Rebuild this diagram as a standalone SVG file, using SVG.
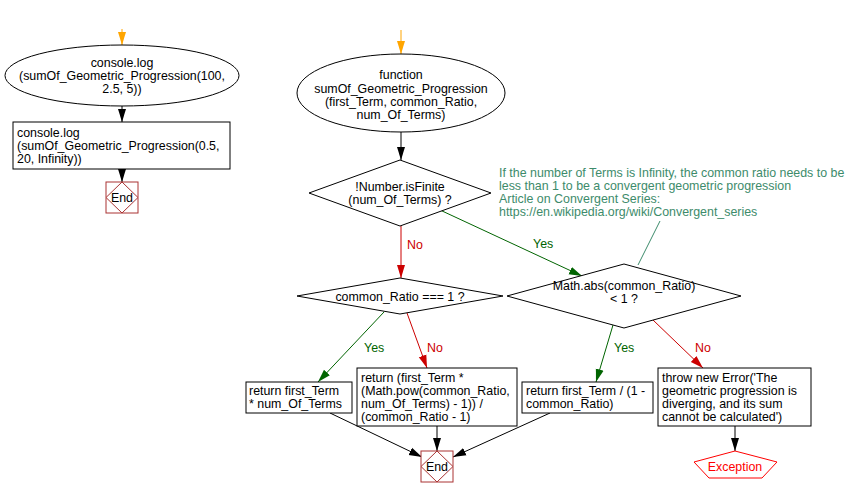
<svg xmlns="http://www.w3.org/2000/svg" width="855" height="497" viewBox="0 0 855 497">
<style>
text{font-family:"Liberation Sans",Arial,sans-serif;font-size:12.4px;fill:#000}
.c{text-anchor:middle}
.shape{fill:#fff;stroke:#000;stroke-width:1}
.end{fill:#fff;stroke:#a33;stroke-width:1}
.blk{stroke:#000;fill:none;stroke-width:1}
.org{stroke:#ffa500;fill:none;stroke-width:1}
.grn{stroke:#006400;fill:none;stroke-width:1}
.red{stroke:#cc0000;fill:none;stroke-width:1}
.note{stroke:#3d8b6b;fill:none;stroke-width:1}
.gt{fill:#006400}
.rt{fill:#cc0000}
.nt{fill:#3d8b6b}
</style>
<defs>
<marker id="ab" markerUnits="userSpaceOnUse" markerWidth="14" markerHeight="10" viewBox="0 -5 14 10" refX="13" refY="0" orient="auto"><path d="M0,-4 L13,0 L0,4 z" fill="#000"/></marker>
<marker id="ao" markerUnits="userSpaceOnUse" markerWidth="14" markerHeight="10" viewBox="0 -5 14 10" refX="13" refY="0" orient="auto"><path d="M0,-4 L13,0 L0,4 z" fill="#ffa500"/></marker>
<marker id="ag" markerUnits="userSpaceOnUse" markerWidth="14" markerHeight="10" viewBox="0 -5 14 10" refX="13" refY="0" orient="auto"><path d="M0,-4 L13,0 L0,4 z" fill="#006400"/></marker>
<marker id="ar" markerUnits="userSpaceOnUse" markerWidth="14" markerHeight="10" viewBox="0 -5 14 10" refX="13" refY="0" orient="auto"><path d="M0,-4 L13,0 L0,4 z" fill="#cc0000"/></marker>
</defs>
<rect width="855" height="497" fill="#fff"/>

<g id="connectors">
<line class="org" x1="122" y1="29" x2="122" y2="45" marker-end="url(#ao)"/>
<line class="org" x1="401" y1="30" x2="401" y2="54" marker-end="url(#ao)"/>
<line class="blk" x1="122" y1="106" x2="122" y2="122" marker-end="url(#ab)"/>
<line class="blk" x1="122" y1="169" x2="122" y2="182" marker-end="url(#ab)"/>
<line class="blk" x1="401" y1="132" x2="401" y2="160" marker-end="url(#ab)"/>
<line class="red" x1="401" y1="226" x2="401" y2="278" marker-end="url(#ar)"/>
<line class="grn" x1="440" y1="210" x2="582" y2="276" marker-end="url(#ag)"/>
<line class="grn" x1="384" y1="312" x2="318" y2="382" marker-end="url(#ag)"/>
<line class="red" x1="407" y1="313" x2="427" y2="368" marker-end="url(#ar)"/>
<line class="grn" x1="613" y1="325" x2="596" y2="382" marker-end="url(#ag)"/>
<line class="red" x1="653" y1="320" x2="703" y2="368" marker-end="url(#ar)"/>
<line class="blk" x1="735" y1="426" x2="735" y2="451" marker-end="url(#ab)"/>
<line class="blk" x1="330" y1="413" x2="422" y2="457" marker-end="url(#ab)"/>
<line class="blk" x1="437" y1="426" x2="437" y2="451" marker-end="url(#ab)"/>
<line class="blk" x1="550" y1="413" x2="453" y2="457" marker-end="url(#ab)"/>
<line class="note" x1="660" y1="221" x2="638" y2="265"/>
<text class="rt" x="407" y="249">No</text>
<text class="gt" x="533" y="248">Yes</text>
<text class="gt" x="364" y="352">Yes</text>
<text class="rt" x="427" y="352">No</text>
<text class="gt" x="614" y="352">Yes</text>
<text class="rt" x="695" y="352">No</text>
</g>

<g id="start-call">
<ellipse class="shape" cx="122" cy="75.5" rx="117" ry="30.5"/>
<text class="c" x="122" y="67">console.log</text>
<text class="c" x="122" y="80">(sumOf_Geometric_Progression(100,</text>
<text class="c" x="122" y="93">2.5, 5))</text>
</g>

<g id="call2">
<rect class="shape" x="13" y="122" width="217" height="47"/>
<text x="17" y="137">console.log</text>
<text x="17" y="150">(sumOf_Geometric_Progression(0.5,</text>
<text x="17" y="163">20, Infinity))</text>
</g>

<g id="end-left">
<rect class="end" x="106" y="182" width="32" height="31"/>
<polygon class="end" points="122,182 138,197.5 122,213 106,197.5"/>
<text class="c" x="122" y="202">End</text>
</g>

<g id="function">
<ellipse class="shape" cx="401" cy="93" rx="104" ry="39"/>
<text class="c" x="401" y="79">function</text>
<text class="c" x="401" y="92.5">sumOf_Geometric_Progression</text>
<text class="c" x="401" y="106">(first_Term, common_Ratio,</text>
<text class="c" x="401" y="119">num_Of_Terms)</text>
</g>

<g id="is-finite">
<polygon class="shape" points="400,160 491,193 400,226 309,193"/>
<text class="c" x="400" y="191">!Number.isFinite</text>
<text class="c" x="400" y="204">(num_Of_Terms) ?</text>
</g>

<g id="note">
<text class="nt" x="499" y="177">If the number of Terms is Infinity, the common ratio needs to be</text>
<text class="nt" x="499" y="190">less than 1 to be a convergent geometric progression</text>
<text class="nt" x="499" y="203">Article on Convergent Series:</text>
<text class="nt" x="499" y="216">https://en.wikipedia.org/wiki/Convergent_series</text>
</g>

<g id="ratio-one">
<polygon class="shape" points="400,278 503,296 400,314 297,296"/>
<text class="c" x="400" y="301">common_Ratio === 1 ?</text>
</g>

<g id="abs-ratio">
<polygon class="shape" points="624,264 741,296 624,328 507,296"/>
<text class="c" x="624" y="290">Math.abs(common_Ratio)</text>
<text class="c" x="624" y="303">&lt; 1 ?</text>
</g>

<g id="ret-mult">
<rect class="shape" x="246" y="382" width="106" height="31"/>
<text x="249" y="395">return first_Term</text>
<text x="249" y="408">* num_Of_Terms</text>
</g>

<g id="ret-formula">
<rect class="shape" x="357" y="368" width="160" height="58"/>
<text x="361" y="382">return (first_Term *</text>
<text x="361" y="395">(Math.pow(common_Ratio,</text>
<text x="361" y="408">num_Of_Terms) - 1)) /</text>
<text x="361" y="421">(common_Ratio - 1)</text>
</g>

<g id="ret-infinite">
<rect class="shape" x="522" y="382" width="131" height="31"/>
<text x="526" y="395">return first_Term / (1 -</text>
<text x="526" y="408">common_Ratio)</text>
</g>

<g id="throw">
<rect class="shape" x="658" y="368" width="153" height="58"/>
<text x="662" y="382">throw new Error('The</text>
<text x="662" y="395">geometric progression is</text>
<text x="662" y="408">diverging, and its sum</text>
<text x="662" y="421">cannot be calculated')</text>
</g>

<g id="exception">
<polygon points="735,451 777,462 762,478 709,478 694,462" fill="#fff" stroke="#ff0000"/>
<text class="c" x="735" y="471" style="fill:#ff0000">Exception</text>
</g>

<g id="end-main">
<rect class="end" x="421" y="451" width="32" height="31"/>
<polygon class="end" points="437,451 453,466.5 437,482 421,466.5"/>
<text class="c" x="437" y="471">End</text>
</g>
</svg>
